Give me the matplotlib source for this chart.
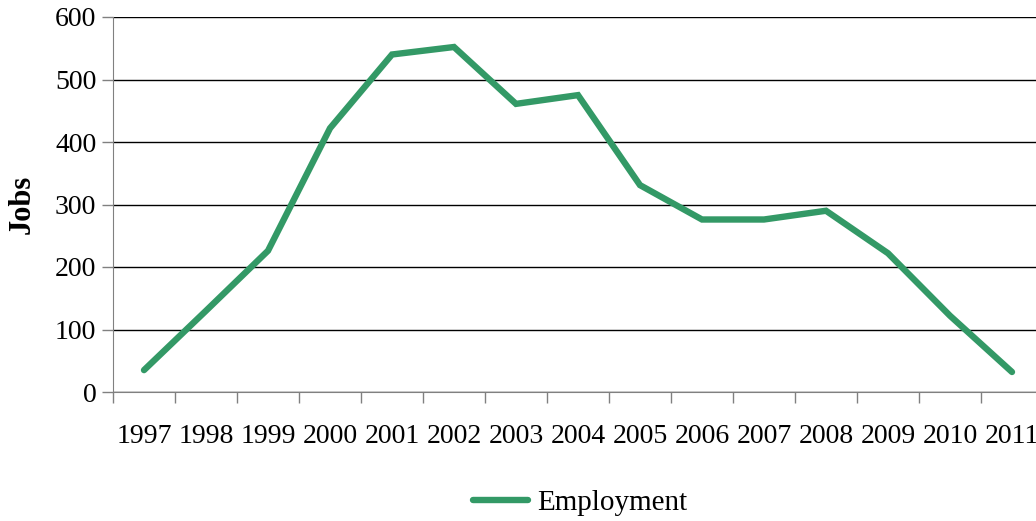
import matplotlib
matplotlib.use("Agg")
import matplotlib.pyplot as plt
import numpy as np

# data
years = ["1997", "1998", "1999", "2000", "2001", "2002", "2003", "2004",
         "2005", "2006", "2007", "2008", "2009", "2010", "2011"]
employment = [35, 130, 226, 422, 540, 552, 461, 475, 331, 276, 276, 290, 222, 122, 32]

plt.rcParams['font.family'] = ['Liberation Serif', 'DejaVu Serif']

fig = plt.figure(figsize=(10.36, 5.21), dpi=100)
# plot area runs slightly past the right edge, as in the reference
ax = fig.add_axes([113 / 1036, 1 - 392 / 521, 930 / 1036, 375 / 521])

x = np.arange(len(years))
ax.plot(x, employment, color='#339966', lw=4.6, solid_capstyle='round',
        solid_joinstyle='miter', label='Employment', zorder=3)

ax.set_xlim(-0.5, len(years) - 0.5)
ax.set_ylim(0, 600)
ax.set_yticks(range(0, 601, 100))
ax.yaxis.grid(True, color='black', lw=1.0)
ax.set_axisbelow(True)

ax.set_xticks(x)
ax.set_xticklabels(years)
ax.set_xticks(np.arange(-0.5, len(years), 1.0), minor=True)
ax.tick_params(axis='x', which='major', length=0, pad=23, labelsize=20)
ax.tick_params(axis='x', which='minor', length=8, color='#808080', width=1)
ax.tick_params(axis='y', length=8, color='#808080', width=1, labelsize=20, pad=4)

for s in ['top', 'right']:
    ax.spines[s].set_visible(False)
ax.spines['left'].set_color('#808080')
ax.spines['bottom'].set_color('#808080')

ax.set_ylabel('Jobs', fontsize=22, fontweight='bold', labelpad=13)

fig.legend(loc='center', bbox_to_anchor=(0.56, 0.035), frameon=False,
           fontsize=21, handlelength=1.9, handletextpad=0.3)

fig.savefig('out.png', dpi=100)
